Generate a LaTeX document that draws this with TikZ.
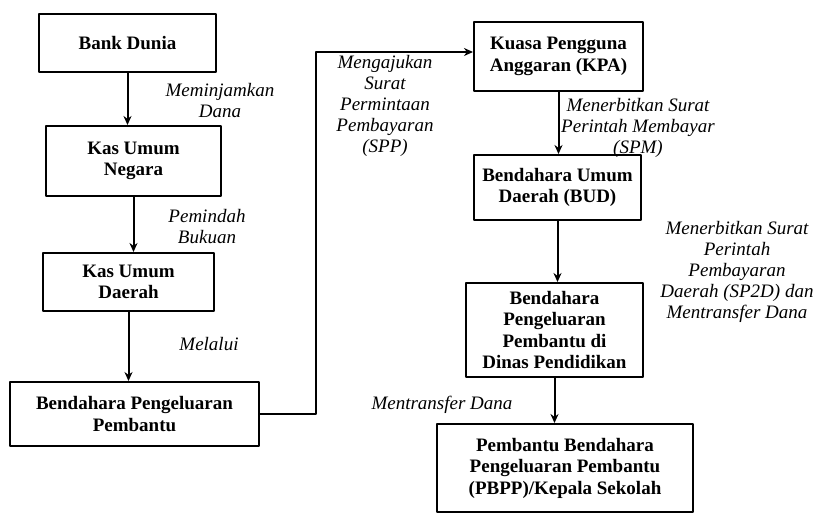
\documentclass[tikz,border=0pt]{standalone}
\usepackage{fontspec}
\setmainfont{Liberation Serif}
\usetikzlibrary{arrows.meta}
\begin{document}
\begin{tikzpicture}[>={Stealth[length=9pt,width=8pt]},line join=round,x=1pt,y=-1pt,font=\fontsize{19}{21}\selectfont]
				\tikzset{
					kotak/.style={draw,line width=2pt,align=center,font=\fontsize{19}{21.5}\selectfont\bfseries,inner sep=0pt},
					ket/.style={align=center,font=\fontsize{19}{21}\selectfont\itshape,inner sep=0pt},
					panah/.style={->,line width=2pt}
				}
				\useasboundingbox (0,0) rectangle (817,520);
				% kotak kiri
				\node[kotak,minimum width=177pt,minimum height=58pt] (bank) at (127.5,43) {Bank Dunia};
				\node[kotak,minimum width=175pt,minimum height=70pt] (kun) at (133.5,161) {Kas Umum\\Negara};
				\node[kotak,minimum width=171pt,minimum height=58pt] (kud) at (128.5,282) {Kas Umum\\Daerah};
				\node[kotak,minimum width=249pt,minimum height=64pt] (bpp) at (134.5,414) {Bendahara Pengeluaran\\Pembantu};
				% kotak kanan
				\node[kotak,minimum width=169pt,minimum height=69pt] (kpa) at (558.5,56.5) {Kuasa Pengguna\\Anggaran (KPA)};
				\node[kotak,minimum width=167pt,minimum height=65pt] (bud) at (557.5,187.5) {Bendahara Umum\\Daerah (BUD)};
				\node[kotak,minimum width=177pt,minimum height=94pt] (bpd) at (554.5,330) {Bendahara\\Pengeluaran\\Pembantu di\\Dinas Pendidikan};
				\node[kotak,minimum width=256pt,minimum height=88pt] (pbpp) at (565,468) {Pembantu Bendahara\\Pengeluaran Pembantu\\(PBPP)/Kepala Sekolah};
				% panah
				\draw[panah] (bank.south) -- (bank.south|-kun.north);
				\draw[panah] (kun.south) -- (kun.south|-kud.north);
				\draw[panah] (kud.south) -- (kud.south|-bpp.north);
				\draw[panah] (bpp.east) -- ++(56,0) |- ([yshift=4.5pt]kpa.west);
				\draw[panah] (kpa.south) -- (kpa.south|-bud.north);
				\draw[panah] (bud.south) -- (bud.south|-bpd.north);
				\draw[panah] (bpd.south) -- (bpd.south|-pbpp.north);
				% keterangan
				\node[ket] (l1) at (220,101) {Meminjamkan\\Dana};
				\node[ket] (l2) at (207,227) {Pemindah\\Bukuan};
				\node[ket] (l3) at (209,344) {Melalui};
				\node[ket] (l4) at (385,106) {Mengajukan\\Surat\\Permintaan\\Pembayaran\\(SPP)};
				\node[ket] (l5) at (638,128) {Menerbitkan Surat\\Perintah Membayar\\(SPM)};
				\node[ket] (l6) at (737,272) {Menerbitkan Surat\\Perintah\\Pembayaran\\Daerah (SP2D) dan\\Mentransfer Dana};
				\node[ket] (l7) at (442,405) {Mentransfer Dana};
			\end{tikzpicture}
\end{document}
